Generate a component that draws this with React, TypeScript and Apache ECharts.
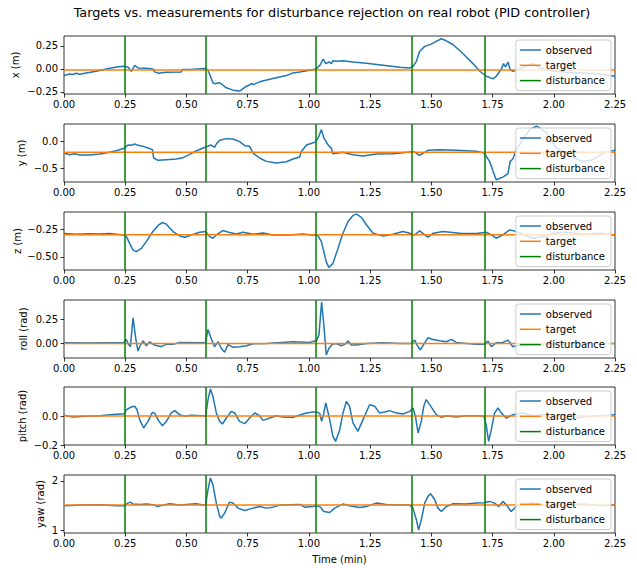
import React, { useEffect, useRef } from "react";
import * as echarts from "echarts";

const FONT = "DejaVu Sans";
const TITLE = "Targets vs. measurements for disturbance rejection on real robot (PID controller)";
const T_MIN = 0;
const T_MAX = 2.25;
const X_TICK_STEP = 0.25;

const disturbanceTimes = [0.25, 0.58, 1.03, 1.416, 1.716];

const axisNames = ["x (m)", "y (m)", "z (m)", "roll (rad)", "pitch (rad)", "yaw (rad)"];
const targetValues = [-0.01, -0.2, -0.3, 0, 0, 1.51];
const yMins = [-0.272, -0.755, -0.62, -0.151, -0.2, 0.945];
const yMaxs = [0.358, 0.33, -0.094, 0.449, 0.2, 2.12];
const yTicks = [
  [-0.25, 0, 0.25],
  [-0.5, 0],
  [-0.5, -0.25],
  [0, 0.25],
  [-0.2, 0],
  [1, 2],
];
const yDecimals = [2, 1, 2, 2, 1, 0];

const obsX: number[][] = [
  [0, -0.072], [0.023, -0.054], [0.035, -0.06], [0.05, -0.047], [0.064, -0.058], [0.091, -0.043],
  [0.132, -0.025], [0.173, 0.0], [0.214, 0.022], [0.246, 0.029], [0.261, 0.022], [0.275, -0.025],
  [0.289, 0.04], [0.302, 0.01], [0.336, 0.007], [0.363, 0.0], [0.37, -0.032], [0.384, -0.043],
  [0.388, -0.05], [0.397, -0.04], [0.418, -0.036], [0.479, -0.032], [0.483, -0.007], [0.527, -0.004],
  [0.578, 0.004], [0.588, -0.014], [0.598, -0.079], [0.608, -0.15], [0.615, -0.16], [0.636, -0.15],
  [0.663, -0.205], [0.69, -0.23], [0.717, -0.24], [0.728, -0.22], [0.745, -0.187], [0.758, -0.175],
  [0.765, -0.158], [0.772, -0.17], [0.799, -0.14], [0.853, -0.104], [0.908, -0.072], [0.935, -0.043],
  [0.962, -0.032], [1.003, -0.014], [1.03, 0.0], [1.047, 0.047], [1.058, 0.108], [1.069, 0.058],
  [1.082, 0.076], [1.092, 0.058], [1.098, 0.09], [1.112, 0.083], [1.139, 0.09], [1.18, 0.076],
  [1.235, 0.061], [1.303, 0.04], [1.371, 0.018], [1.412, 0.011], [1.425, 0.029], [1.439, 0.083],
  [1.452, 0.19], [1.473, 0.245], [1.5, 0.27], [1.52, 0.299], [1.541, 0.328], [1.561, 0.306],
  [1.589, 0.263], [1.616, 0.2], [1.643, 0.13], [1.67, 0.058], [1.698, -0.025], [1.725, -0.079],
  [1.752, -0.108], [1.765, -0.079], [1.786, 0.0], [1.795, 0.058], [1.803, 0.022], [1.813, 0.076],
  [1.822, -0.007], [1.833, -0.025], [1.861, 0.0], [1.915, 0.058], [1.942, 0.011], [1.997, -0.025],
  [2.051, -0.036], [2.119, -0.043], [2.187, -0.054], [2.25, -0.079],
];

const obsY: number[][] = [
  [0, -0.212], [0.023, -0.244], [0.044, -0.225], [0.064, -0.25], [0.105, -0.25], [0.146, -0.231],
  [0.186, -0.2], [0.214, -0.169], [0.246, -0.125], [0.261, -0.063], [0.275, -0.069], [0.289, -0.044],
  [0.302, -0.069], [0.323, -0.088], [0.343, -0.119], [0.361, -0.15], [0.366, -0.306], [0.384, -0.35],
  [0.418, -0.338], [0.459, -0.325], [0.486, -0.3], [0.513, -0.238], [0.54, -0.175], [0.578, -0.1],
  [0.601, -0.063], [0.615, -0.106], [0.622, -0.044], [0.636, 0.025], [0.663, 0.056], [0.69, 0.05],
  [0.717, 0.0], [0.738, -0.075], [0.758, -0.088], [0.772, -0.213], [0.799, -0.306], [0.826, -0.369],
  [0.867, -0.4], [0.908, -0.375], [0.935, -0.325], [0.962, -0.288], [0.969, -0.188], [0.99, -0.063],
  [1.024, -0.013], [1.03, 0.019], [1.041, 0.1], [1.051, 0.225], [1.061, 0.069], [1.078, -0.056],
  [1.092, -0.13], [1.098, -0.225], [1.119, -0.213], [1.139, -0.2], [1.18, -0.244], [1.221, -0.27],
  [1.275, -0.231], [1.343, -0.225], [1.412, -0.194], [1.432, -0.194], [1.452, -0.256], [1.473, -0.2],
  [1.486, -0.163], [1.534, -0.15], [1.602, -0.163], [1.684, -0.181], [1.715, -0.213], [1.738, -0.369],
  [1.752, -0.556], [1.765, -0.713], [1.792, -0.663], [1.813, -0.6], [1.822, -0.369], [1.833, -0.325],
  [1.847, -0.15], [1.874, 0.038], [1.901, 0.225], [1.929, 0.288], [1.942, 0.256], [1.97, 0.163],
  [2.01, -0.119], [2.065, -0.275], [2.119, -0.369], [2.16, -0.338], [2.201, -0.213], [2.25, -0.163],
];

const obsZ: number[][] = [
  [0, -0.29], [0.05, -0.296], [0.1, -0.292], [0.146, -0.293], [0.186, -0.29], [0.246, -0.302],
  [0.255, -0.317], [0.268, -0.378], [0.282, -0.44], [0.295, -0.454], [0.316, -0.424], [0.336, -0.363],
  [0.363, -0.271], [0.384, -0.216], [0.402, -0.189], [0.418, -0.204], [0.445, -0.271], [0.472, -0.311],
  [0.493, -0.323], [0.52, -0.302], [0.554, -0.277], [0.578, -0.271], [0.595, -0.317], [0.608, -0.332],
  [0.622, -0.302], [0.649, -0.262], [0.676, -0.28], [0.704, -0.293], [0.731, -0.278], [0.772, -0.296],
  [0.813, -0.284], [0.853, -0.302], [0.921, -0.302], [0.976, -0.293], [1.03, -0.308], [1.037, -0.308],
  [1.051, -0.363], [1.061, -0.454], [1.071, -0.546], [1.082, -0.598], [1.098, -0.561], [1.119, -0.424],
  [1.139, -0.287], [1.16, -0.18], [1.18, -0.125], [1.194, -0.113], [1.214, -0.143], [1.235, -0.21],
  [1.262, -0.287], [1.303, -0.311], [1.343, -0.296], [1.384, -0.271], [1.412, -0.287], [1.432, -0.302],
  [1.452, -0.265], [1.473, -0.302], [1.486, -0.323], [1.507, -0.287], [1.548, -0.271], [1.616, -0.287],
  [1.684, -0.29], [1.725, -0.278], [1.745, -0.302], [1.765, -0.332], [1.792, -0.302], [1.82, -0.256],
  [1.847, -0.271], [1.888, -0.308], [1.915, -0.332], [1.956, -0.317], [1.997, -0.287], [2.051, -0.278],
  [2.119, -0.296], [2.187, -0.287], [2.25, -0.302],
];

const obsRoll: number[][] = [
  [0, 0.007], [0.1, 0.005], [0.2, 0.008], [0.241, 0.007], [0.246, 0.017], [0.255, 0.041],
  [0.261, 0.0], [0.271, -0.034], [0.282, 0.264], [0.293, 0.05], [0.302, -0.079], [0.312, -0.017],
  [0.323, 0.027], [0.336, -0.024], [0.35, 0.017], [0.37, -0.017], [0.397, -0.034], [0.418, -0.01],
  [0.445, -0.01], [0.472, 0.01], [0.578, 0.007], [0.588, 0.144], [0.601, 0.05], [0.615, -0.034],
  [0.629, 0.017], [0.642, -0.05], [0.656, -0.092], [0.67, -0.01], [0.69, -0.041], [0.717, -0.034],
  [0.745, -0.024], [0.772, -0.003], [0.826, 0.0], [0.935, 0.017], [1.003, 0.01], [1.024, 0.024],
  [1.03, 0.024], [1.041, 0.086], [1.052, 0.428], [1.061, 0.19], [1.071, -0.12], [1.082, -0.05],
  [1.096, -0.01], [1.112, 0.0], [1.132, -0.024], [1.146, -0.01], [1.16, 0.024], [1.173, -0.017],
  [1.194, -0.017], [1.235, 0.0], [1.303, 0.007], [1.371, 0.0], [1.418, 0.0], [1.432, 0.034],
  [1.442, -0.017], [1.455, -0.068], [1.469, -0.01], [1.486, 0.058], [1.507, 0.041], [1.534, 0.027],
  [1.561, 0.017], [1.582, 0.041], [1.602, 0.01], [1.643, 0.0], [1.684, -0.01], [1.715, -0.01],
  [1.731, 0.024], [1.745, -0.034], [1.765, 0.007], [1.792, 0.01], [1.813, 0.034], [1.833, -0.034],
  [1.861, -0.017], [1.915, 0.0], [1.997, -0.01], [2.078, 0.0], [2.25, 0.0],
];

const obsPitch: number[][] = [
  [0, 0.005], [0.037, -0.007], [0.091, -0.002], [0.146, 0.002], [0.2, 0.011], [0.246, 0.016],
  [0.255, 0.044], [0.275, 0.062], [0.289, 0.067], [0.298, 0.044], [0.309, -0.025], [0.325, -0.083],
  [0.343, -0.037], [0.361, 0.025], [0.37, 0.02], [0.388, -0.037], [0.402, -0.067], [0.418, -0.037],
  [0.438, 0.021], [0.452, 0.037], [0.472, 0.009], [0.493, -0.002], [0.52, 0.005], [0.568, 0.002],
  [0.578, -0.002], [0.588, 0.113], [0.598, 0.186], [0.608, 0.136], [0.622, 0.021], [0.636, -0.037],
  [0.647, -0.055], [0.663, -0.014], [0.683, 0.032], [0.697, 0.021], [0.717, -0.037], [0.738, -0.053],
  [0.758, -0.014], [0.779, 0.021], [0.799, 0.0], [0.813, -0.03], [0.84, -0.014], [0.867, 0.002],
  [0.894, -0.007], [0.935, -0.009], [0.99, 0.021], [1.017, 0.028], [1.03, 0.028], [1.044, 0.02],
  [1.052, -0.037], [1.061, 0.02], [1.069, 0.09], [1.085, -0.025], [1.098, -0.14], [1.109, -0.175],
  [1.126, -0.094], [1.139, 0.02], [1.153, 0.1], [1.166, 0.067], [1.18, -0.048], [1.2, -0.106],
  [1.221, -0.025], [1.248, 0.078], [1.269, 0.067], [1.289, 0.02], [1.309, 0.028], [1.33, 0.037],
  [1.357, 0.02], [1.384, 0.014], [1.412, 0.032], [1.425, 0.055], [1.435, -0.002], [1.446, -0.117],
  [1.459, -0.037], [1.469, 0.067], [1.479, 0.113], [1.493, 0.078], [1.507, 0.044], [1.52, 0.009],
  [1.541, -0.009], [1.561, 0.002], [1.602, -0.007], [1.643, 0.002], [1.684, 0.002], [1.715, -0.002],
  [1.725, -0.071], [1.734, -0.175], [1.745, -0.094], [1.758, 0.02], [1.772, 0.055], [1.786, 0.02],
  [1.806, -0.014], [1.833, 0.009], [1.874, 0.02], [1.915, 0.002], [1.956, 0.009], [1.997, -0.014],
  [2.051, -0.025], [2.119, -0.007], [2.187, 0.002], [2.25, 0.009],
];

const obsYaw: number[][] = [
  [0, 1.497], [0.078, 1.51], [0.146, 1.517], [0.214, 1.497], [0.246, 1.497], [0.261, 1.551],
  [0.271, 1.571], [0.282, 1.531], [0.309, 1.524], [0.336, 1.531], [0.363, 1.517], [0.384, 1.483],
  [0.404, 1.51], [0.431, 1.537], [0.472, 1.51], [0.5, 1.524], [0.54, 1.537], [0.568, 1.51],
  [0.578, 1.51], [0.588, 1.823], [0.598, 2.06], [0.608, 1.925], [0.622, 1.551], [0.636, 1.28],
  [0.642, 1.245], [0.656, 1.347], [0.676, 1.571], [0.69, 1.551], [0.711, 1.449], [0.738, 1.401],
  [0.772, 1.449], [0.799, 1.483], [0.826, 1.449], [0.853, 1.469], [0.881, 1.51], [0.921, 1.517],
  [0.962, 1.524], [0.983, 1.469], [1.017, 1.483], [1.037, 1.497], [1.047, 1.469], [1.061, 1.381],
  [1.085, 1.36], [1.105, 1.449], [1.139, 1.531], [1.166, 1.497], [1.207, 1.463], [1.235, 1.483],
  [1.275, 1.551], [1.316, 1.524], [1.371, 1.51], [1.412, 1.51], [1.425, 1.449], [1.439, 1.211],
  [1.448, 1.007], [1.459, 1.211], [1.473, 1.551], [1.486, 1.687], [1.497, 1.741], [1.514, 1.619],
  [1.527, 1.449], [1.541, 1.381], [1.561, 1.483], [1.589, 1.537], [1.643, 1.531], [1.684, 1.551],
  [1.715, 1.558], [1.738, 1.585], [1.758, 1.551], [1.775, 1.483], [1.792, 1.585], [1.806, 1.517],
  [1.826, 1.381], [1.847, 1.483], [1.915, 1.551], [1.983, 1.483], [2.051, 1.51], [2.119, 1.531],
  [2.187, 1.497], [2.25, 1.517],
];

const observed = [obsX, obsY, obsZ, obsRoll, obsPitch, obsYaw];

const COLORS = { observed: "#1f77b4", target: "#ff7f0e", disturbance: "#008000" };
const GRID_TOPS = [36, 124, 212, 300, 387, 475];
const GRID_H = 58;
const GRID_LEFT = 64;
const GRID_W = 551;
const NAME_X = [15, 21, 17, 23, 22, 40];

const fmt = (v: number, d: number) => {
  const s = Math.abs(v) < 1e-9 ? (0).toFixed(d) : v.toFixed(d);
  return s.replace("-", "\u2212");
};

export default function App() {
  const ref = useRef<HTMLDivElement>(null);
  useEffect(() => {
    document.body.style.margin = "0";
    if (!ref.current) return;
    const chart = echarts.init(ref.current, undefined, { renderer: "svg" });
    const textBase = { fontFamily: FONT, color: "#000", fontSize: 10 };
    const series: any[] = [];
    observed.forEach((obs, i) => {
      series.push({
        type: "line", name: "observed", xAxisIndex: i, yAxisIndex: i, data: obs,
        symbol: "none", lineStyle: { width: 1.5, color: COLORS.observed },
        itemStyle: { color: COLORS.observed }, z: 2, silent: true,
      });
      series.push({
        type: "line", name: "target", xAxisIndex: i, yAxisIndex: i,
        data: [[T_MIN, targetValues[i]], [T_MAX, targetValues[i]]],
        symbol: "none", lineStyle: { width: 1.5, color: COLORS.target },
        itemStyle: { color: COLORS.target }, z: 3, silent: true,
      });
      series.push({
        type: "line", name: "disturbance", xAxisIndex: i, yAxisIndex: i, data: [],
        symbol: "none", lineStyle: { width: 1.5, color: COLORS.disturbance },
        itemStyle: { color: COLORS.disturbance }, z: 4, silent: true,
        markLine: {
          silent: true, symbol: ["none", "none"], label: { show: false },
          lineStyle: { color: COLORS.disturbance, width: 1.5, type: "solid" },
          emphasis: { disabled: true },
          data: disturbanceTimes.map((t) => ({ xAxis: t })),
        },
      });
    });
    const graphic: any[] = [
      {
        type: "text", x: 332, y: 12, silent: true,
        style: {
          text: TITLE, fill: "#000", fontFamily: FONT, fontSize: 12.8,
          textAlign: "center", textVerticalAlign: "middle",
        },
      },
    ];
    axisNames.forEach((name, i) => {
      graphic.push({
        type: "text", x: NAME_X[i], y: GRID_TOPS[i] + GRID_H / 2, rotation: Math.PI / 2, silent: true,
        style: {
          text: name, fill: "#000", fontFamily: FONT, fontSize: 10,
          textAlign: "center", textVerticalAlign: "middle",
        },
      });
    });
    const option: any = {
      animation: false,
      graphic,
      grid: GRID_TOPS.map((top) => ({
        left: GRID_LEFT, width: GRID_W, top, height: GRID_H, show: true,
        borderColor: "#000", borderWidth: 0.8, backgroundColor: "transparent",
      })),
      xAxis: GRID_TOPS.map((_, i) => ({
        type: "value", gridIndex: i, min: T_MIN, max: T_MAX, interval: X_TICK_STEP,
        axisLine: { show: false, onZero: false },
        axisTick: { show: true, length: 3.5, lineStyle: { color: "#000", width: 0.8 } },
        axisLabel: { ...textBase, margin: 5, formatter: (v: number) => fmt(v, 2) },
        splitLine: { show: false },
        name: i === GRID_TOPS.length - 1 ? "Time (min)" : "",
        nameLocation: "middle", nameGap: 21, nameTextStyle: { ...textBase },
      })),
      yAxis: GRID_TOPS.map((_, i) => ({
        type: "value", gridIndex: i, min: yMins[i], max: yMaxs[i],
        axisLine: { show: false, onZero: false },
        axisTick: { show: true, length: 3.5, lineStyle: { color: "#000", width: 0.8 }, customValues: yTicks[i] },
        axisLabel: { ...textBase, margin: 6, customValues: yTicks[i], formatter: (v: number) => fmt(v, yDecimals[i]) },
        splitLine: { show: false },
      })),
      legend: GRID_TOPS.map((top) => ({
        data: ["observed", "target", "disturbance"],
        orient: "vertical", right: 26, top: top + 4,
        icon: "rect", itemWidth: 21, itemHeight: 1.5, itemGap: 3.3, padding: [4, 6, 4, 4],
        backgroundColor: "rgba(255,255,255,0.8)", borderColor: "#cccccc", borderWidth: 1, borderRadius: 3,
        textStyle: { ...textBase, lineHeight: 12 }, selectedMode: false, z: 10,
      })),
      series,
    };
    chart.setOption(option);
    return () => chart.dispose();
  }, []);
  return <div ref={ref} style={{ width: 637, height: 568 }} />;
}
